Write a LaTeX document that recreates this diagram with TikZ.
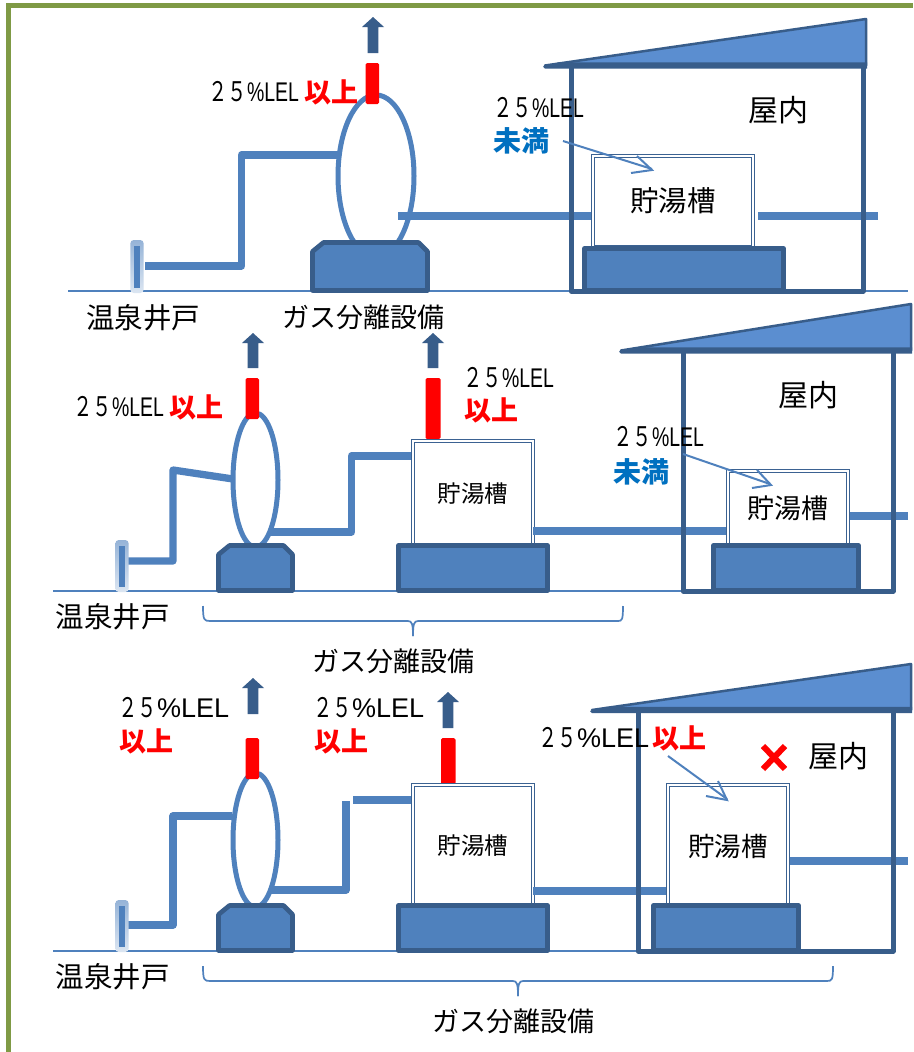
\documentclass[tikz,border=0pt]{standalone}
\usepackage{fontspec}
\newfontfamily\jp{Noto Sans CJK JP}
\newfontfamily\lat{Liberation Sans}
\definecolor{pipe}{HTML}{4F81BD}
\definecolor{dark}{HTML}{385D8A}
\definecolor{roof}{HTML}{5B8ED0}
\definecolor{frame}{HTML}{7F9A45}
\definecolor{under}{HTML}{0070C0}
\newcommand{\narrowlel}{\scalebox{.72}[1]{\jp ２５\lat\%LEL}}
\newcommand{\widelel}{\scalebox{.72}[1]{\jp ２５}\lat\%LEL}
\tikzset{
 x=1pt,y=-1pt,
 pipeln/.style={draw=pipe,line width=7.3pt,line join=round},
 vessel/.style={draw=pipe,line width=5pt,fill=white},
 baseb/.style={draw=dark,line width=4.7pt,fill=pipe,line join=round},
 ground/.style={draw=pipe,line width=2pt},
 wall/.style={draw=dark,line width=5pt,line join=round},
 tank/.style={draw=dark!85!pipe,line width=1.3pt,fill=white,double=white,double distance=2.2pt},
 redv/.style={fill=red,rounded corners=1.5pt},
 up/.style={draw=none,fill=dark},
 lbl/.style={font=\jp\fontsize{27}{27}\selectfont,inner sep=0pt,text=black},
 lelt/.style={font=\fontsize{27}{27}\selectfont,inner sep=0pt,text=black},
 jred/.style={font=\jp\bfseries\fontsize{27}{27}\selectfont,text=red,inner sep=0pt},
 jblue/.style={font=\jp\bfseries\fontsize{28}{28}\selectfont,text=under,inner sep=0pt},
 callout/.style={draw=pipe,line width=2pt},
 brace/.style={draw=pipe,line width=1.7pt},
 wellname/.style={lbl,font=\jp\fontsize{28.5}{28.5}\selectfont},
}
\newcommand{\uparr}[3]{\fill[up] (#1-5.3,#3) -- (#1-5.3,#2+10) -- (#1-11,#2+10) -- (#1,#2) -- (#1+11,#2+10) -- (#1+5.3,#2+10) -- (#1+5.3,#3) -- cycle;}
\newcommand{\roofshape}[4]{\fill[roof,draw=dark,line width=2.5pt,line join=round] (#1,#4) -- (#2,#3) -- (#2,#4) -- cycle; \fill[dark] (#1-2,#4+1) -- (#1+14,#4-3.2) -- (#2+1,#4-3.2) -- (#2+1,#4+3.2) -- (#1,#4+3.2) -- cycle;}
\newcommand{\skid}[4]{\draw[baseb] (#1+11,#3) -- (#2-9,#3) -- (#2,#3+9) -- (#2,#4) -- (#1,#4) -- (#1,#3+9) -- cycle;}
\newcommand{\wellpost}[3]{\shade[top color=pipe!60,bottom color=pipe!20,rounded corners=3.5pt] (#1-6.7,#2) rectangle (#1+6.7,#3); \fill[pipe] (#1-3,#2+6) rectangle (#1+3,#3-5);}
\begin{document}
\begin{tikzpicture}
\useasboundingbox (0,0) rectangle (913,1052);
\fill[white] (0,0) rectangle (913,1052);
% frame
\draw[frame,line width=5pt] (8.3,1052) -- (8.3,5.7) -- (913,5.7);

%%% Panel 1
\draw[ground] (68,291) -- (908,291);
\draw[pipeln] (145,266) -- (241.5,266) -- (241.5,155) -- (340,155);
\draw[vessel] (376,176) ellipse (38 and 81);
\fill[redv] (365.5,63) rectangle (379,104);
\uparr{373}{17}{53}
\skid{312.5}{427.5}{242.5}{290.5}
\draw[pipeln] (398,216) -- (593,216);
\draw[pipeln] (758,216) -- (878,216);
\wellpost{137}{240}{293}
\draw[wall] (571,67) -- (571,291) -- (863,291) -- (863,67);
\draw[tank] (593,156) rectangle (753,247);
\draw[baseb] (584.5,248.5) rectangle (783.5,290.5);
\roofshape{545}{866}{19}{65.5}
\node[lelt,anchor=west] (a1) at (208,92) {\narrowlel};
\node[jred,anchor=west] (b1) at (304,92) {以上};
\node[lelt,anchor=west] (a2) at (493,108) {\narrowlel};
\node[jblue,anchor=west] (b2) at (493,141) {未満};
\draw[callout] (563,141) -- (652,169);
\draw[callout] (631,173) -- (652,170) -- (637,156);
\node[lbl,font=\jp\fontsize{28.5}{28.5}\selectfont] (t1) at (673,201) {貯湯槽};
\node[lbl,font=\jp\fontsize{30}{30}\selectfont] (w1) at (778,110) {屋内};
\node[wellname] (s1) at (143,318) {温泉井戸};
\node[lbl] (g1) at (363,317) {ガス分離設備};

%%% Panel 2
\draw[ground] (53,590.5) -- (684,590.5);
\draw[pipeln] (126,561) -- (173,561) -- (173,470) -- (233,479);
\draw[vessel] (255.5,480) ellipse (22.5 and 67);
\fill[redv] (245.5,378) rectangle (259,419);
\uparr{253}{333}{368}
\skid{218.5}{292.5}{545.5}{590.5}
\draw[pipeln] (270,532) -- (351.5,532) -- (351.5,456) -- (412,456);
\fill[redv] (425.5,378) rectangle (440.5,439);
\uparr{433}{333}{368}
\draw[tank] (413,441) rectangle (533,545);
\draw[baseb] (398.5,545.5) rectangle (547.5,590.5);
\draw[pipeln] (533,531) -- (728,531);
\draw[pipeln] (848,516) -- (908,516);
\wellpost{122}{540}{592}
\draw[wall] (683,352) -- (683,591) -- (893,591) -- (893,352);
\draw[tank] (728,471) rectangle (848,545);
\draw[baseb] (713.5,545.5) rectangle (858.5,590.5);
\roofshape{621}{911}{304}{350.5}
\node[lelt,anchor=west] (a3) at (73,407) {\narrowlel};
\node[jred,anchor=west] (b3) at (169,407) {以上};
\node[lelt,anchor=west] (a4) at (463,378) {\narrowlel};
\node[jred,anchor=west] (b4) at (464,410) {以上};
\node[lelt,anchor=west] (a5) at (613,437) {\narrowlel};
\node[jblue,anchor=west] (b5) at (613,472) {未満};
\draw[callout] (683,454) -- (770,484);
\draw[callout] (752,488) -- (771,485) -- (757,470);
\node[lbl,font=\jp\fontsize{23.5}{23.5}\selectfont] (t2) at (473,494) {貯湯槽};
\node[lbl] (t3) at (788,508) {貯湯槽};
\node[lbl,font=\jp\fontsize{30}{30}\selectfont] (w2) at (808,395) {屋内};
\node[wellname] (s2) at (112.5,617) {温泉井戸};
\node[lbl] (g2) at (393,661) {ガス分離設備};
\draw[brace] (203,606) .. controls (203,620) and (204,621) .. (210,621) -- (408,621) .. controls (412,621) and (413,624) .. (413,636);
\draw[brace] (413,636) .. controls (413,624) and (414,621) .. (418,621) -- (618,621) .. controls (622,621) and (623,620) .. (623,606);

%%% Panel 3
\draw[ground] (53,950.5) -- (640,950.5);
\draw[pipeln] (126,925) -- (173,925) -- (173,816) -- (232,816);
\draw[vessel] (255.5,840) ellipse (22.5 and 67);
\fill[redv] (245.5,738) rectangle (259,779);
\uparr{253}{678}{714}
\skid{218.5}{292.5}{905.5}{950.5}
\draw[pipeln] (270,890) -- (346,890) -- (346,801);
\draw[pipeln] (353,800) -- (412,800);
\fill[redv] (441,738) rectangle (455.5,784);
\uparr{448}{692}{728}
\draw[tank] (413,785) rectangle (533,905);
\draw[baseb] (398.5,905.5) rectangle (547.5,950.5);
\draw[pipeln] (533,891) -- (668,891);
\draw[pipeln] (788,861) -- (908,861);
\wellpost{122}{900}{952}
\draw[wall] (638,712) -- (638,951) -- (893,951) -- (893,712);
\draw[tank] (668,785) rectangle (788,905);
\draw[baseb] (653.5,905.5) rectangle (798.5,950.5);
\roofshape{592}{911}{664}{710}
\node[lelt,anchor=west] (a6) at (118,708) {\widelel};
\node[jred,anchor=west] (b6) at (119,741) {以上};
\node[lelt,anchor=west] (a7) at (313,708) {\widelel};
\node[jred,anchor=west] (b7) at (314,741) {以上};
\node[lelt,anchor=west] (a8) at (538,738) {\widelel};
\node[jred,anchor=west] (b8) at (652,738) {以上};
\draw[callout] (668,756) -- (727,799);
\draw[callout] (706,796) -- (727,800) -- (718,781);
\draw[red,line width=6pt] (763,746) -- (785,769) (785,746) -- (763,769);
\node[lbl,font=\jp\fontsize{23.5}{23.5}\selectfont] (t4) at (473,846) {貯湯槽};
\node[lbl,font=\jp\fontsize{26.5}{26.5}\selectfont] (t5) at (728,846) {貯湯槽};
\node[lbl,font=\jp\fontsize{30}{30}\selectfont] (w3) at (838,756) {屋内};
\node[wellname] (s3) at (112.5,977) {温泉井戸};
\node[lbl] (g3) at (513,1021) {ガス分離設備};
\draw[brace] (203,966) .. controls (203,980) and (204,981) .. (210,981) -- (513,981) .. controls (517,981) and (518,984) .. (518,996);
\draw[brace] (518,996) .. controls (518,984) and (519,981) .. (523,981) -- (827,981) .. controls (832,981) and (833,980) .. (833,966);
\end{tikzpicture}
\end{document}
